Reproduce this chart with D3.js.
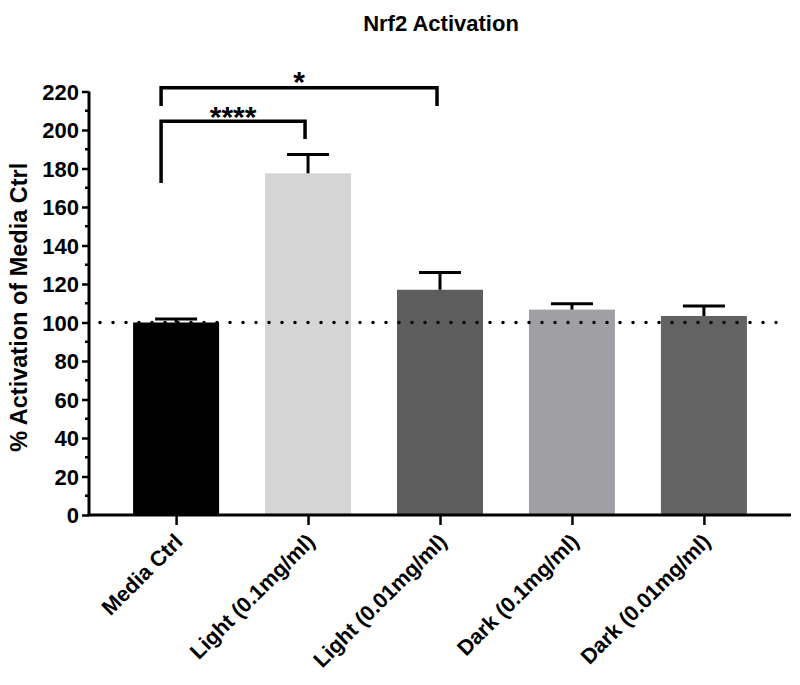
<!DOCTYPE html>
<html>
<head>
<meta charset="utf-8">
<script src="https://cdn.jsdelivr.net/npm/d3@7"></script>
<style>
	body { margin: 0; background: #fff; }
	svg text { font-family: "Liberation Sans", Arial, Helvetica, sans-serif; font-weight: bold; fill: #000; }
</style>
</head>
<body>
<svg id="chart" width="800" height="685"></svg>
<script>
const categories = ["Media Ctrl", "Light (0.1mg/ml)", "Light (0.01mg/ml)", "Dark (0.1mg/ml)", "Dark (0.01mg/ml)"];
const means = [100, 177.5, 117, 106.7, 103.4];
const errors = [1.8, 9.8, 9, 3, 5.2];
const yTicks = [0, 20, 40, 60, 80, 100, 120, 140, 160, 180, 200, 220];
const referenceLine = 100;
// significance brackets: from / to bar index, label, levels in y units
const sigFrom = [0, 0];
const sigTo = [1, 2];
const sigLabels = ["****", "*"];
const sigTop = [204.5, 222];
const sigLeftEnd = [172.5, 212.5];
const sigRightEnd = [195.3, 212.5];

const colors = ["#000000", "#d5d5d5", "#5e5e5e", "#a0a0a4", "#636363"];
const plotLeft = 89;
const plotRight = 791;
const plotBottom = 515;
const plotTop = 91.5;
const barWidth = 86;

const svg = d3.select('#chart');

const xScale = d3.scalePoint()
	.domain(categories)
	.range([plotLeft, plotRight])
	.padding(0.66);

const yScale = d3.scaleLinear()
	.domain([0, 220])
	.range([plotBottom, plotTop]);

// title
svg.append('text')
	.attr('x', 441)
	.attr('y', 31)
	.attr('text-anchor', 'middle')
	.style('font-size', '22px')
	.text('Nrf2 Activation');

// y label
svg.append('text')
	.attr('transform', `translate(27, ${(plotBottom + plotTop) / 2 + 4}) rotate(-90)`)
	.attr('text-anchor', 'middle')
	.style('font-size', '23.5px')
	.text('% Activation of Media Ctrl');

// bars
svg.selectAll('.bar')
	.data(means)
	.enter()
	.append('rect')
	.attr('class', 'bar')
	.attr('x', (d, i) => xScale(categories[i]) - barWidth / 2)
	.attr('y', d => yScale(d))
	.attr('width', barWidth)
	.attr('height', d => plotBottom - yScale(d))
	.attr('fill', (d, i) => colors[i]);

// error bars (upper only)
means.forEach((m, i) => {
	const cx = xScale(categories[i]);
	const g = svg.append('g').attr('stroke', '#000').attr('stroke-width', 3);
	g.append('line')
		.attr('x1', cx).attr('x2', cx)
		.attr('y1', yScale(m)).attr('y2', yScale(m + errors[i]));
	g.append('line')
		.attr('x1', cx - 21).attr('x2', cx + 21)
		.attr('y1', yScale(m + errors[i])).attr('y2', yScale(m + errors[i]));
});

// dotted reference line
svg.append('line')
	.attr('x1', plotLeft + 11)
	.attr('x2', plotRight - 8)
	.attr('y1', yScale(referenceLine))
	.attr('y2', yScale(referenceLine))
	.attr('stroke', '#000')
	.attr('stroke-width', 3.5)
	.attr('stroke-linecap', 'round')
	.attr('stroke-dasharray', '0 13');

// y axis
const yAxis = d3.axisLeft(yScale).tickValues(yTicks).tickSize(7).tickPadding(3).tickFormat(d3.format('d'));
const yG = svg.append('g')
	.attr('transform', `translate(${plotLeft}, 0)`)
	.call(yAxis);
yG.select('.domain').attr('stroke-width', 3).attr('d', `M0,${plotBottom}V${plotTop}`);
yG.selectAll('.tick line').attr('stroke-width', 2.5);
yG.selectAll('.tick text').style('font-size', '22px').style('font-family', '"Liberation Sans", Arial, sans-serif').attr('dy', '0.36em');

// minor ticks
svg.append('g')
	.selectAll('line')
	.data(d3.range(10, 220, 20))
	.enter()
	.append('line')
	.attr('x1', plotLeft - 4)
	.attr('x2', plotLeft)
	.attr('y1', d => yScale(d))
	.attr('y2', d => yScale(d))
	.attr('stroke', '#000')
	.attr('stroke-width', 2.5);

// x axis
const xAxis = d3.axisBottom(xScale).tickSize(10).tickFormat('');
const xG = svg.append('g')
	.attr('transform', `translate(0, ${plotBottom})`)
	.call(xAxis);
xG.select('.domain').attr('stroke-width', 3).attr('d', `M${plotLeft - 1.5},0H${plotRight}`);
xG.selectAll('.tick line').attr('stroke-width', 2.5);

svg.append('g')
	.selectAll('text')
	.data(categories)
	.enter()
	.append('text')
	.attr('transform', d => `translate(${xScale(d) + 8}, ${plotBottom + 28}) rotate(-45)`)
	.attr('text-anchor', 'end')
	.style('font-size', '21.5px')
	.text(d => d);

// significance brackets
sigLabels.forEach((label, i) => {
	const x1 = xScale(categories[sigFrom[i]]) - 15;
	const x2 = xScale(categories[sigTo[i]]) - 3;
	svg.append('path')
		.attr('d', `M${x1},${yScale(sigLeftEnd[i])}V${yScale(sigTop[i])}H${x2}V${yScale(sigRightEnd[i])}`)
		.attr('fill', 'none')
		.attr('stroke', '#000')
		.attr('stroke-width', 3.5);
	svg.append('text')
		.attr('x', (x1 + x2) / 2)
		.attr('y', yScale(sigTop[i]) + (label.length > 1 ? 6 : 4))
		.attr('text-anchor', 'middle')
		.style('font-size', '30px')
		.text(label);
});
</script>
</body>
</html>
